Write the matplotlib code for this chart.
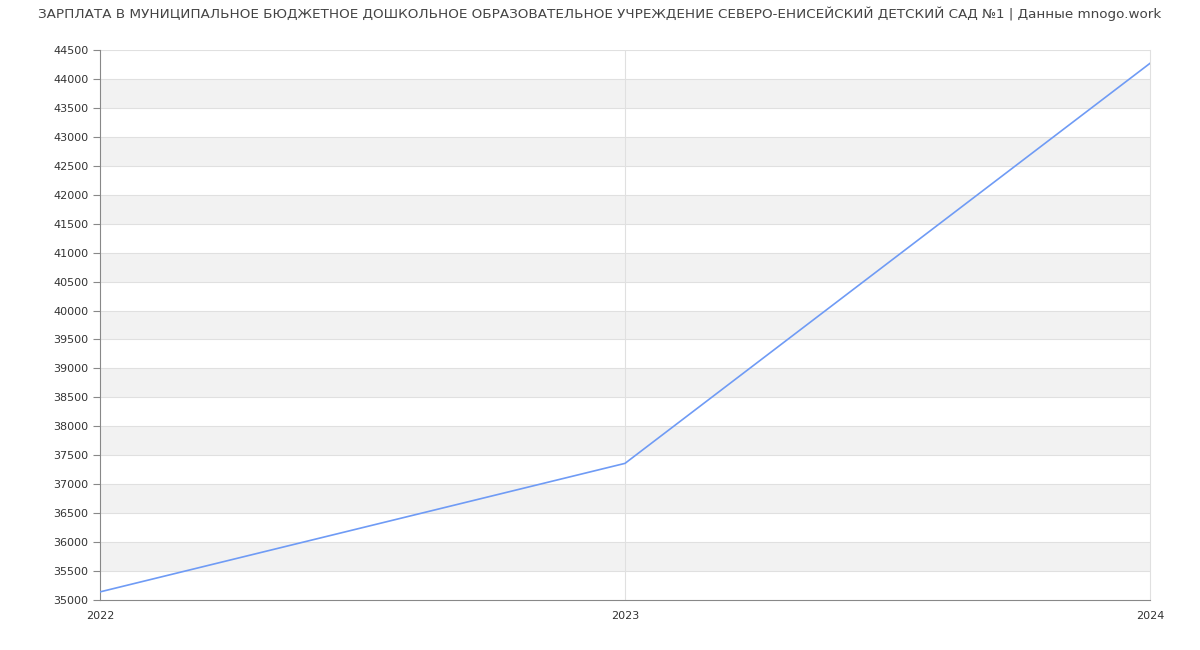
import numpy as np
import matplotlib.pyplot as plt

title = "ЗАРПЛАТА В МУНИЦИПАЛЬНОЕ БЮДЖЕТНОЕ ДОШКОЛЬНОЕ ОБРАЗОВАТЕЛЬНОЕ УЧРЕЖДЕНИЕ СЕВЕРО-ЕНИСЕЙСКИЙ ДЕТСКИЙ САД №1 | Данные mnogo.work"
years = [2022, 2023, 2024]
salary = [35140, 37360, 44270]

ymin, ymax, ystep = 35000, 44500, 500

fig = plt.figure(figsize=(12, 6.5), dpi=100)
ax = fig.add_axes([100 / 1200, 50 / 650, 1050 / 1200, 550 / 650])

# alternating bands
for lo in np.arange(ymin + 500, ymax, 1000):
    ax.axhspan(lo, lo + 500, color="#f2f2f2", zorder=0, lw=0)
for y in np.arange(ymin + ystep, ymax + 1, ystep):
    ax.axhline(y, color="#e0e0e0", lw=0.8, zorder=1)
ax.axvline(2023, color="#e0e0e0", lw=0.8, zorder=1)

ax.plot(years, salary, color="#6f9bf5", lw=1.2, zorder=3)

ax.set_xlim(2022, 2024)
ax.set_ylim(ymin, ymax)
ax.set_xticks(years)
ax.set_yticks(np.arange(ymin, ymax + 1, ystep))
ax.tick_params(axis="y", labelsize=8, colors="#333333", length=5, color="#888888")
ax.tick_params(axis="x", labelsize=8, colors="#333333", length=0, pad=8)
for lbl in ax.get_xticklabels():
    lbl.set_x(lbl.get_position()[0])

for s in ["top", "right"]:
    ax.spines[s].set_visible(False)
ax.spines["left"].set_color("#888888")
ax.spines["bottom"].set_color("#888888")
ax.plot([2024, 2024], [ymin, ymax], color="#e0e0e0", lw=0.8, zorder=1, clip_on=False)

fig.text(0.5, 1 - 14 / 650, title, ha="center", va="center", fontsize=9.7, color="#444444")

fig.savefig("out.png", dpi=100)
